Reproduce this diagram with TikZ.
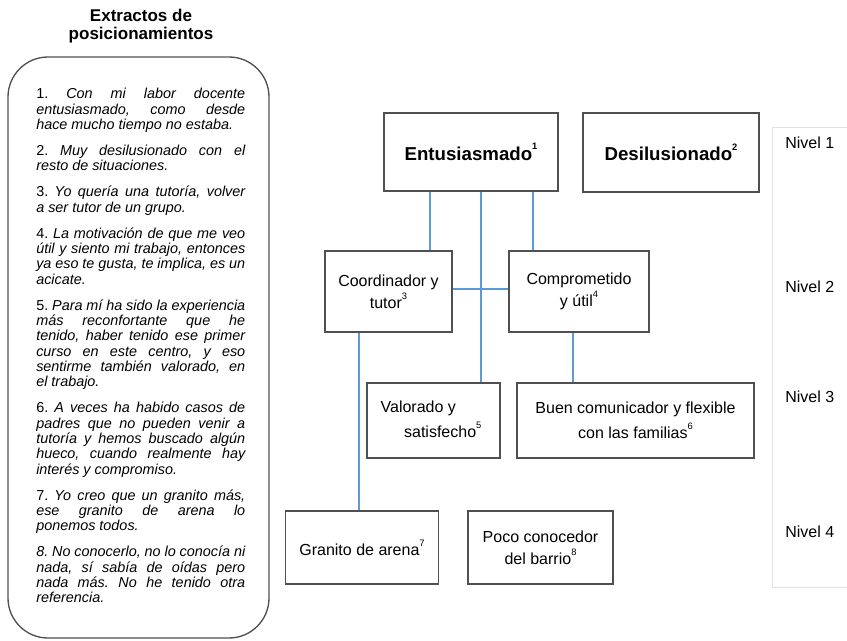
\documentclass[tikz,border=0pt]{standalone}
\usepackage{fontspec}
\setmainfont{Liberation Sans}
\usepackage{tikz}
\definecolor{linkblue}{RGB}{91,155,213}
\definecolor{boxgray}{RGB}{80,80,80}
\definecolor{rulegray}{RGB}{226,226,226}
\newcommand{\unitpx}{0.75pt}
\newcommand{\widthextract}{156.75pt}
\newcommand{\nota}[1]{\raisebox{0.55em}{\fontsize{7}{7}\selectfont #1}}
\tikzset{
    common/.style={draw=boxgray, line width=1pt, rectangle, inner sep=0pt, align=center},
    topbox/.style={common, font=\fontsize{14}{17}\selectfont\bfseries},
    concept/.style={common, font=\fontsize{12}{16.5}\selectfont},
    wideconcept/.style={common, font=\fontsize{12}{18.75}\selectfont},
    link/.style={linkblue, line width=1.5pt},
    levelrule/.style={rulegray, line width=0.75pt},
    level/.style={anchor=west, inner sep=0pt, font=\fontsize{12}{14}\selectfont},
    panel/.style={draw=boxgray, line width=1pt, rounded corners=30pt},
    extract/.style={anchor=north west, inner sep=0pt, text width=\widthextract, align=justify,
        font=\fontsize{10.8}{11.5}\selectfont\itshape}
}

\begin{document}
\begin{tikzpicture}[x=\unitpx, y=-\unitpx]
    \useasboundingbox (0,0) rectangle (847,641);

    % extractos
    \node[align=center, inner sep=0pt, font=\fontsize{12.75}{13.5}\selectfont\bfseries] (title) at (141,26)
        {Extractos de\\posicionamientos};
    \draw[panel] (8,57) rectangle (269,638);
    \node[extract] (quotes) at (36,88) {\setlength{\parindent}{0pt}\setlength{\parskip}{8pt}%
        \hyphenpenalty=10000 \tolerance=10000 \emergencystretch=0pt \frenchspacing
        {\upshape 1.} Con mi labor docente\linebreak entusiasmado, como desde\linebreak hace mucho tiempo no estaba.\par
        {\upshape 2.} Muy desilusionado con el\linebreak resto de situaciones.\par
        {\upshape 3.} Yo quería una tutoría, volver\linebreak a ser tutor de un grupo.\par
        {\upshape 4.} La motivación de que me veo\linebreak útil y siento mi trabajo, entonces\linebreak ya eso te gusta, te implica, es un\linebreak acicate.\par
        {\upshape 5.} Para mí ha sido la experiencia\linebreak más reconfortante que he\linebreak tenido, haber tenido ese primer\linebreak curso en este centro, y eso\linebreak sentirme también valorado, en\linebreak el trabajo.\par
        {\upshape 6.} A veces ha habido casos de\linebreak padres que no pueden venir a\linebreak tutoría y hemos buscado algún\linebreak hueco, cuando realmente hay\linebreak interés y compromiso.\par
        {\upshape 7.} Yo creo que un granito más,\linebreak ese granito de arena lo\linebreak ponemos todos.\par
        8. No conocerlo, no lo conocía ni\linebreak nada, sí sabía de oídas pero\linebreak nada más. No he tenido otra\linebreak referencia.\par};

    % niveles
    \path
        node[topbox, minimum width=174*\unitpx, minimum height=78*\unitpx] (ent) at (471,152) {Entusiasmado\nota{1}}
        node[topbox, minimum width=176*\unitpx, minimum height=79*\unitpx] (desil) at (671,152.5) {Desilusionado\nota{2}}
        node[concept, minimum width=127*\unitpx, minimum height=81*\unitpx] (coord) at (388.5,291.5) {Coordinador y\\tutor\nota{3}}
        node[concept, minimum width=140*\unitpx, minimum height=81*\unitpx] (compr) at (579,291.5) {Comprometido\\y útil\nota{4}}
        node[wideconcept, minimum width=133*\unitpx, minimum height=75*\unitpx] (valor) at (433.5,420.5) {}
        node[wideconcept, minimum width=237*\unitpx, minimum height=75*\unitpx] (buen) at (635.5,420.5) {Buen comunicador y flexible\\con las familias\nota{6}}
        node[concept, minimum width=153*\unitpx, minimum height=73*\unitpx] (granito) at (362,547.5) {Granito de arena\nota{7}}
        node[concept, minimum width=145*\unitpx, minimum height=73*\unitpx] (poco) at (540.5,547.5) {Poco conocedor\\del barrio\nota{8}};
    \node[align=left, inner sep=0pt, font=\fontsize{12}{18.75}\selectfont] (valor-text) at (431,419.5)
        {Valorado y\\\hspace*{17.6pt}satisfecho\nota{5}};

    \coordinate (col-a) at (430,0);
    \coordinate (col-b) at (481,0);
    \coordinate (col-c) at (533,0);
    \coordinate (col-d) at (359,0);
    \coordinate (col-e) at (573,0);

    \draw[link] (ent.south -| col-a) -- (coord.north -| col-a);
    \draw[link] (ent.south -| col-b) -- (valor.north -| col-b);
    \draw[link] (ent.south -| col-c) -- (compr.north -| col-c);
    \draw[link] ([yshift=1.9pt]coord.east) -- ([yshift=1.9pt]compr.west);
    \draw[link] (coord.south -| col-d) -- (granito.north -| col-d);
    \draw[link] (compr.south -| col-e) -- (buen.north -| col-e);

    \draw[levelrule] (847,128) -| (772,588) -- (847,588);
    \path
        node[level] (nivel-1) at (785,143) {Nivel 1}
        node[level] (nivel-2) at (785,287) {Nivel 2}
        node[level] (nivel-3) at (785,397) {Nivel 3}
        node[level] (nivel-4) at (785,532) {Nivel 4};
\end{tikzpicture}
\end{document}
